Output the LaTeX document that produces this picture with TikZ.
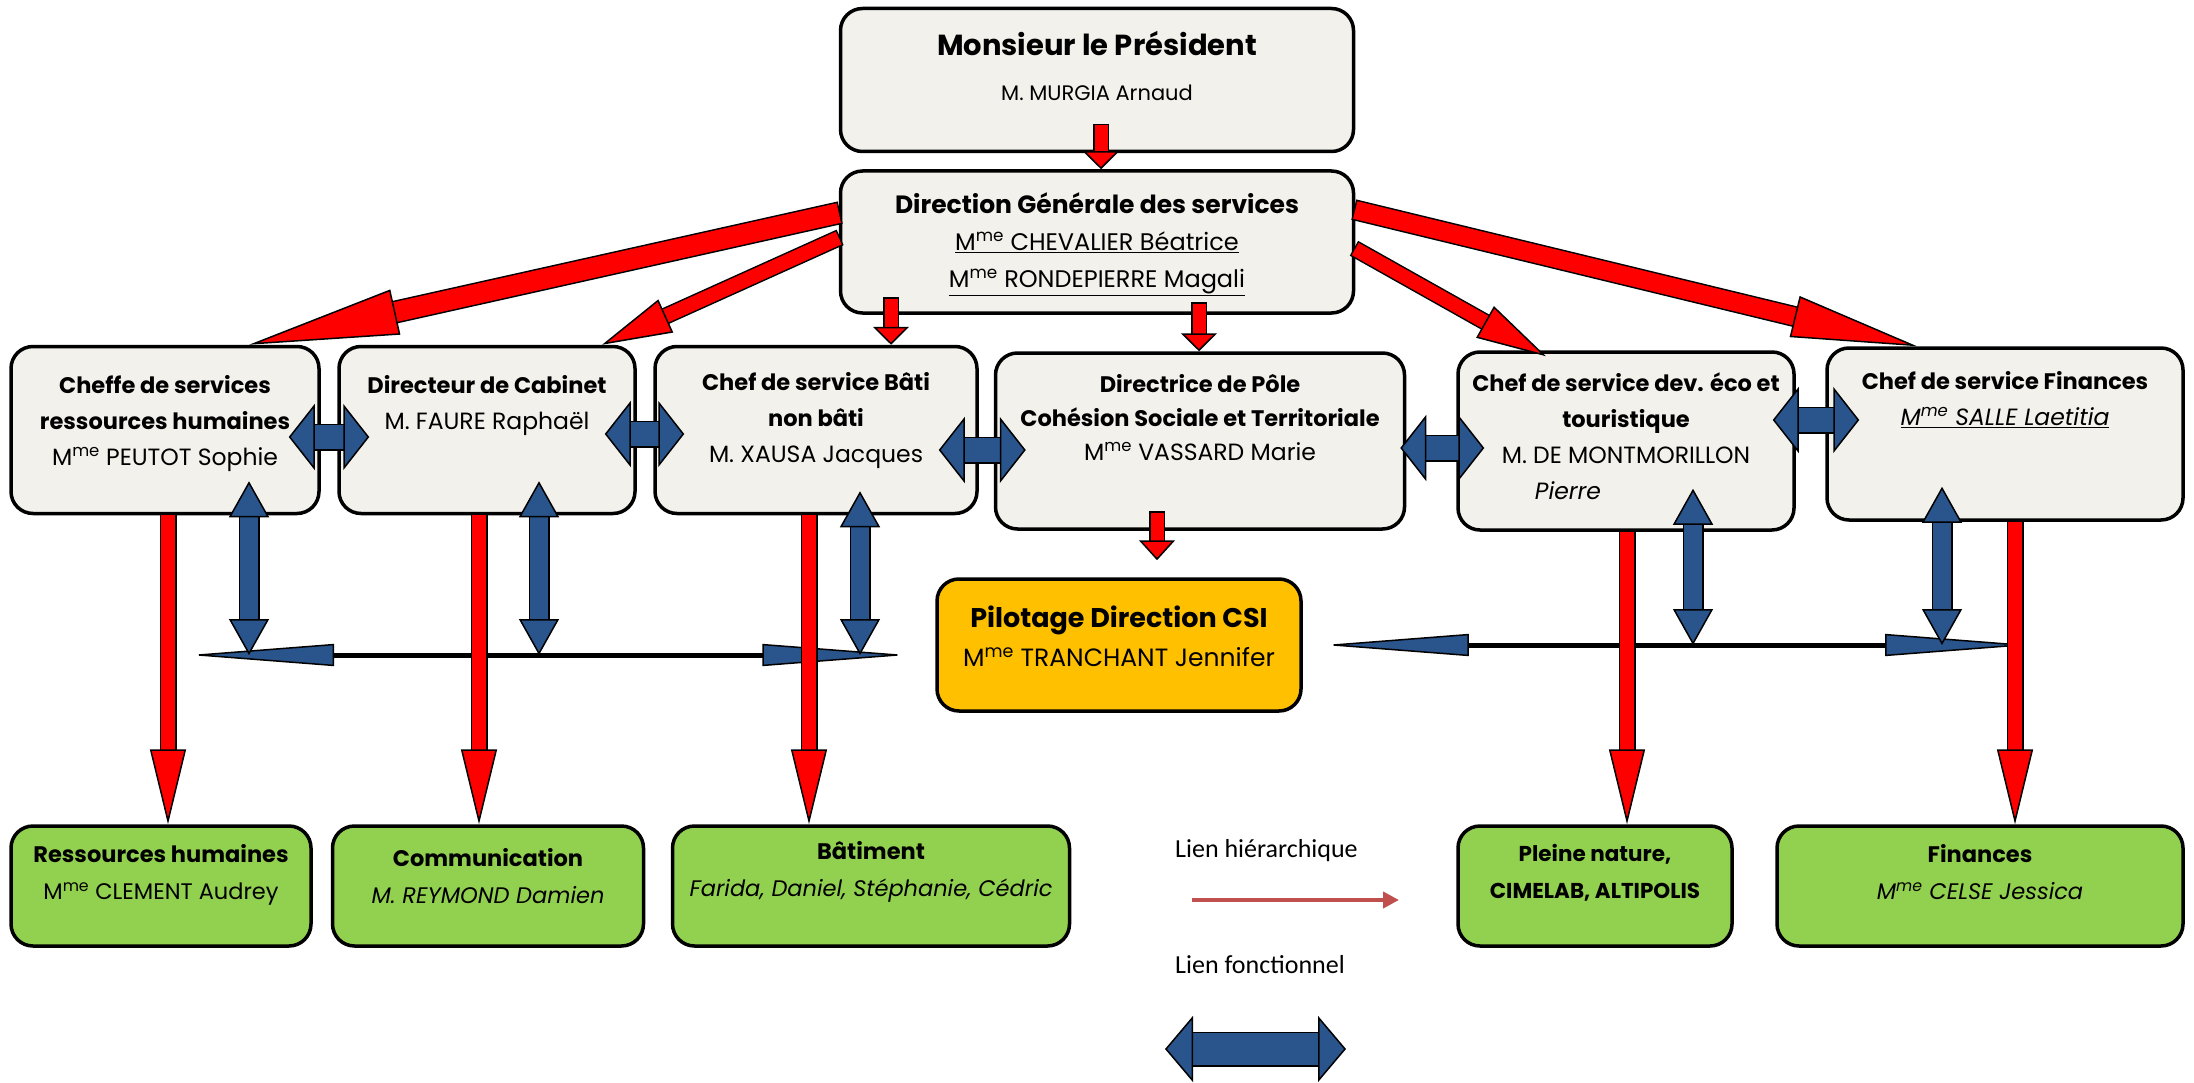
\documentclass[tikz,border=0pt]{standalone}
\usepackage{fontspec}
\setmainfont{Poppins}
\newfontfamily\legfont{Carlito}
\usetikzlibrary{arrows.meta,positioning}
\definecolor{grisbox}{RGB}{242,241,236}
\definecolor{vertbox}{RGB}{146,208,80}
\definecolor{jaunebox}{RGB}{255,192,0}
\definecolor{bleuf}{RGB}{41,84,140}
\definecolor{rougeleg}{RGB}{192,80,77}
\newcommand{\Mme}{M\textsuperscript{me}}
\newcommand{\lbl}[1]{{\fontsize{22.5}{36}\selectfont\bfseries #1}}
\begin{document}
\begin{tikzpicture}[x=1pt, y=-1pt,
  box/.style={draw=black, line width=3.5pt, rounded corners=22pt, fill=grisbox, inner sep=0pt},
  txt/.style={align=center, inner sep=0pt, font=\fontsize{23.5}{36}\selectfont},
  gtxt/.style={align=center, inner sep=0pt, font=\fontsize{22.5}{37}\selectfont},
  hier/.style n args={3}{draw=red, line width=#1,
    -{Triangle[length=#2, width=#3, fill=red, color=black, line width=1.5pt]},
    preaction={draw=black, arrows=-, line width=#1+3pt, shorten >=#2-4pt, shorten <=-1.5pt}},
  fonc/.style n args={3}{draw=bleuf, line width=#1,
    {Triangle[length=#2, width=#3, fill=bleuf, color=black, line width=1.5pt]}-{Triangle[length=#2, width=#3, fill=bleuf, color=black, line width=1.5pt]},
    preaction={draw=black, arrows=-, line width=#1+3pt, shorten >=#2-4pt, shorten <=#2-4pt}},
  ligne/.style={draw=black, line width=5pt,
    {Triangle[length=145pt, width=22pt, fill=bleuf, color=black, line width=1.5pt]}-{Triangle[length=145pt, width=22pt, fill=bleuf, color=black, line width=1.5pt]}}]
\useasboundingbox (0,0) rectangle (2194,1083);

\node[box, minimum width=513pt, minimum height=143pt] (pres) at (1097,80) {};
\node[box, minimum width=513pt, minimum height=142pt] (dgs) at (1097,242) {};
\node[box, minimum width=308pt, minimum height=167pt] (rh) at (165,430) {};
\node[box, minimum width=296pt, minimum height=167pt] (cab) at (487,430) {};
\node[box, minimum width=322pt, minimum height=167pt] (bati) at (816,430) {};
\node[box, minimum width=409pt, minimum height=176pt] (pole) at (1200,441) {};
\node[box, minimum width=336pt, minimum height=178pt] (eco) at (1626,441) {};
\node[box, minimum width=356pt, minimum height=172pt] (fin) at (2005,434) {};
\node[box, fill=jaunebox, minimum width=364pt, minimum height=132pt] (pil) at (1119,645) {};
\node[box, fill=vertbox, minimum width=300pt, minimum height=120pt] (grh) at (161,886) {};
\node[box, fill=vertbox, minimum width=311pt, minimum height=120pt] (gcom) at (488,886) {};
\node[box, fill=vertbox, minimum width=397pt, minimum height=120pt] (gbat) at (871,886) {};
\node[box, fill=vertbox, minimum width=274pt, minimum height=120pt] (gpn) at (1595,886) {};
\node[box, fill=vertbox, minimum width=406pt, minimum height=120pt] (gfin) at (1980,886) {};

\node[txt, font=\fontsize{21}{45}\selectfont, below=24pt of pres.north] (pres-t) {{\fontsize{29}{33}\selectfont\bfseries Monsieur le Président}\\M. MURGIA Arnaud};
\node[txt, font=\fontsize{24}{37}\selectfont, below=23pt of dgs.north] (dgs-t) {{\fontsize{25}{28}\selectfont\bfseries Direction Générale des services}\\\underline{\Mme{} CHEVALIER Béatrice}\\\underline{\Mme{} RONDEPIERRE Magali}};
\node[txt, below=31pt of rh.north] (rh-t) {\lbl{Cheffe de services}\\\lbl{ressources humaines}\\\Mme{} PEUTOT Sophie};
\node[txt, below=31pt of cab.north] (cab-t) {\lbl{Directeur de Cabinet}\\M. FAURE Raphaël};
\node[txt, below=28pt of bati.north] (bati-t) {\lbl{Chef de service Bâti}\\\lbl{non bâti}\\M. XAUSA Jacques};
\node[txt, font=\fontsize{23.5}{34}\selectfont, below=23pt of pole.north] (pole-t) {\lbl{Directrice de Pôle}\\\lbl{Cohésion Sociale et Territoriale}\\\Mme{} VASSARD Marie};
\node[txt, below=22pt of eco.north] (eco-t) {\lbl{Chef de service dev. éco et}\\\lbl{touristique}\\M. DE MONTMORILLON\\\textit{Pierre}\hspace*{116pt}};
\node[txt, below=25pt of fin.north] (fin-t) {\lbl{Chef de service Finances}\\\underline{\textit{\Mme{} SALLE Laetitia}}};
\node[txt, font=\fontsize{25}{39}\selectfont, below=28pt of pil.north] (pil-t) {{\fontsize{27}{30}\selectfont\bfseries Pilotage Direction CSI}\\\Mme{} TRANCHANT Jennifer};
\node[gtxt, below=20pt of grh.north] (grh-t) {\textbf{Ressources humaines}\\\Mme{} CLEMENT Audrey};
\node[gtxt, below=24pt of gcom.north] (gcom-t) {\textbf{Communication}\\\textit{M. REYMOND Damien}};
\node[gtxt, below=17pt of gbat.north] (gbat-t) {\textbf{Bâtiment}\\\textit{Farida, Daniel, Stéphanie, Cédric}};
\node[gtxt, font=\fontsize{21.5}{37}\selectfont\bfseries, below=20pt of gpn.north] (gpn-t) {Pleine nature,\\CIMELAB, ALTIPOLIS};
\node[gtxt, below=20pt of gfin.north] (gfin-t) {\textbf{Finances}\\\textit{\Mme{} CELSE Jessica}};

\coordinate (lg) at (189,655);
\coordinate (ld) at (2030,645);
\draw[ligne] (lg) -- ([xshift=-28pt]pil.west |- lg);
\draw[ligne] ([xshift=21pt]pil.east) -- (ld);

\draw[fonc={18pt}{36pt}{40pt}] ([xshift=84pt,yshift=34pt]rh.south) -- ([xshift=84pt]rh.south |- lg);
\draw[fonc={18pt}{36pt}{40pt}] ([xshift=52pt,yshift=34pt]cab.south) -- ([xshift=52pt]cab.south |- lg);
\draw[fonc={18pt}{36pt}{40pt}] ([xshift=44pt,yshift=24pt]bati.south) -- ([xshift=44pt]bati.south |- lg);
\draw[fonc={18pt}{36pt}{40pt}] ([xshift=67pt,yshift=43pt]eco.south) -- ([xshift=67pt]eco.south |- ld);
\draw[fonc={18pt}{36pt}{40pt}] ([xshift=-63pt,yshift=35pt]fin.south) -- ([xshift=-63pt]fin.south |- ld);

\draw[fonc={24pt}{26pt}{66pt}] ([xshift=-32pt,yshift=-7pt]rh.east) -- ([xshift=32pt,yshift=-7pt]cab.west);
\draw[fonc={24pt}{26pt}{66pt}] ([xshift=-32pt,yshift=-4pt]cab.east) -- ([xshift=31pt,yshift=-4pt]bati.west);
\draw[fonc={24pt}{26pt}{66pt}] ([xshift=-40pt,yshift=-20pt]bati.east) -- ([xshift=32pt,yshift=-9pt]pole.west);
\draw[fonc={24pt}{26pt}{66pt}] ([xshift=-6pt,yshift=-7pt]pole.east) -- ([xshift=28pt,yshift=-7pt]eco.west);
\draw[fonc={24pt}{26pt}{66pt}] ([xshift=-23pt,yshift=21pt]eco.east) -- ([xshift=34pt,yshift=14pt]fin.west);

\draw[hier={13pt}{18pt}{36pt}] ([xshift=4pt,yshift=28pt]pres.south) -- ([xshift=4pt]dgs.north);
\draw[hier={20pt}{150pt}{46pt}] ([yshift=29pt]dgs.west) -- ([xshift=84pt]rh.north);
\draw[hier={14pt}{70pt}{36pt}] ([yshift=4pt]dgs.west) -- ([xshift=115pt]cab.north);
\draw[hier={13pt}{18pt}{36pt}] ([xshift=-206pt,yshift=16pt]dgs.south) -- ([xshift=75pt]bati.north);
\draw[hier={13pt}{18pt}{36pt}] ([xshift=102pt,yshift=11pt]dgs.south) -- ([xshift=-1pt]pole.north);
\draw[hier={14pt}{70pt}{36pt}] ([yshift=-7pt]dgs.east) -- ([xshift=-80pt,yshift=-6pt]eco.north);
\draw[hier={18pt}{126pt}{42pt}] ([yshift=32pt]dgs.east) -- ([xshift=-88pt]fin.north);
\draw[hier={13pt}{20pt}{36pt}] ([xshift=-43pt,yshift=18pt]pole.south) -- ([xshift=38pt,yshift=17pt]pil.north);

\draw[hier={14pt}{75pt}{36pt}] ([xshift=3pt]rh.south) -- ([xshift=3pt]rh.south |- grh.north);
\draw[hier={14pt}{75pt}{36pt}] ([xshift=-8pt]cab.south) -- ([xshift=-8pt]cab.south |- gcom.north);
\draw[hier={14pt}{75pt}{36pt}] ([xshift=-7pt]bati.south) -- ([xshift=-7pt]bati.south |- gbat.north);
\draw[hier={14pt}{75pt}{36pt}] ([xshift=1pt]eco.south) -- ([xshift=1pt]eco.south |- gpn.north);
\draw[hier={14pt}{75pt}{36pt}] ([xshift=10pt]fin.south) -- ([xshift=10pt]fin.south |- gfin.north);

\node[anchor=west, inner sep=0pt, font=\legfont\fontsize{26}{30}\selectfont] (leg1) at (1175,851) {Lien hiérarchique};
\coordinate (lh1) at (1192,900);
\coordinate (lh2) at (1399,900);
\draw[draw=rougeleg, line width=4pt, -{Triangle[length=16pt,width=16pt]}] (lh1) -- (lh2);
\node[anchor=west, inner sep=0pt, font=\legfont\fontsize{26}{30}\selectfont] (leg2) at (1175,965) {Lien fonctionnel};
\coordinate (lf1) at (1165,1049);
\coordinate (lf2) at (1346,1049);
\draw[fonc={32pt}{28pt}{66pt}] (lf1) -- (lf2);
\end{tikzpicture}
\end{document}
